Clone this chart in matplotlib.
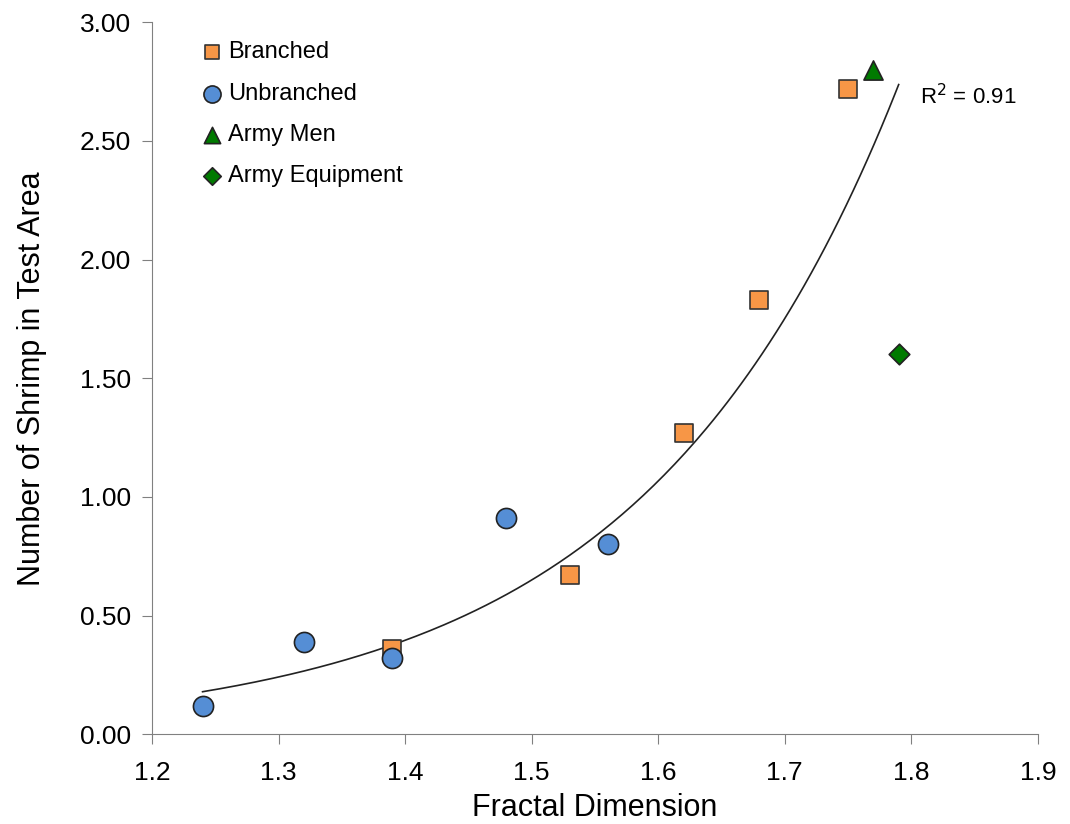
import numpy as np
import matplotlib
matplotlib.use("Agg")
import matplotlib.pyplot as plt

plt.rcParams['font.family'] = ['Liberation Sans', 'DejaVu Sans']

branched_x = [1.39, 1.53, 1.62, 1.68, 1.75]
branched_y = [0.36, 0.67, 1.27, 1.83, 2.72]
unbranched_x = [1.24, 1.32, 1.39, 1.48, 1.56]
unbranched_y = [0.12, 0.39, 0.32, 0.91, 0.80]
men_x = [1.77]
men_y = [2.80]
equip_x = [1.79]
equip_y = [1.60]

all_x = np.array(branched_x + unbranched_x + men_x + equip_x)
all_y = np.array(branched_y + unbranched_y + men_y + equip_y)
b, lna = np.polyfit(all_x, np.log(all_y), 1)

fig = plt.figure(figsize=(10.7, 8.24), dpi=100)
ax = fig.add_axes([0.142, 0.109, 0.828, 0.864])

xs = np.linspace(all_x.min(), all_x.max(), 200)
ax.plot(xs, np.exp(lna) * np.exp(b * xs), color='#222222', lw=1.2, zorder=2)

ax.scatter(branched_x, branched_y, marker='s', s=150, c='#F79646', edgecolors='#333333', linewidths=1.2, zorder=3, label='Branched')
ax.scatter(unbranched_x, unbranched_y, marker='o', s=210, c='#558ED5', edgecolors='#222222', linewidths=1.2, zorder=4, label='Unbranched')
ax.scatter(men_x, men_y, marker='^', s=190, c='#007A00', edgecolors='#222222', linewidths=1.2, zorder=3, label='Army Men')
ax.scatter(equip_x, equip_y, marker='D', s=110, c='#007A00', edgecolors='#222222', linewidths=1.2, zorder=3, label='Army Equipment')

ax.text(1.807, 2.687, 'R$^2$ = 0.91', fontsize=16, ha='left', va='center')

ax.set_xlim(1.2, 1.9)
ax.set_ylim(0, 3.0)
ax.set_xticks(np.arange(1.2, 1.91, 0.1))
ax.set_xticklabels(['1.2', '1.3', '1.4', '1.5', '1.6', '1.7', '1.8', '1.9'])
ax.set_yticks(np.arange(0, 3.01, 0.5))
ax.set_yticklabels(['%.2f' % v for v in np.arange(0, 3.01, 0.5)])
for s in ['top', 'right']:
    ax.spines[s].set_visible(False)
for s in ['left', 'bottom']:
    ax.spines[s].set_color('#808080')
ax.tick_params(direction='out', length=7, color='#808080', labelsize=19)
ax.tick_params(axis='x', pad=12)
ax.tick_params(axis='y', pad=8)
ax.set_xlabel('Fractal Dimension', fontsize=22, labelpad=6)
ax.set_ylabel('Number of Shrimp in Test Area', fontsize=22, labelpad=24)

leg = ax.legend(loc='upper left', bbox_to_anchor=(0.03, 1.003), frameon=False, fontsize=17,
                handletextpad=0.2, labelspacing=0.82, markerscale=0.85, handlelength=1.0)
fig.savefig('out.png', dpi=100)
